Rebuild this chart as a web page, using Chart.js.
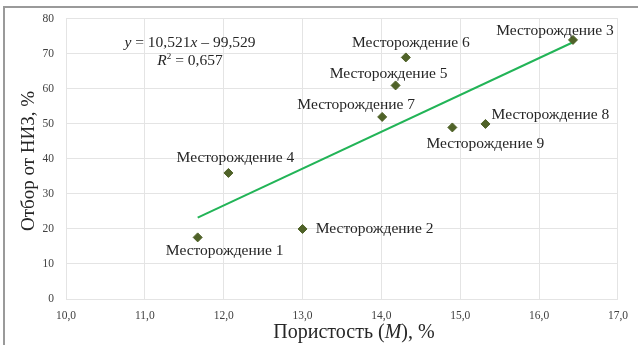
<!DOCTYPE html>
<html>
<head>
<meta charset="utf-8">
<script src="https://cdn.jsdelivr.net/npm/chart.js@4"></script>
<style>
  html, body { margin: 0; padding: 0; background: #fff; }
  #wrap { width: 638px; height: 345px; }
</style>
</head>
<body>
<div id="wrap"><canvas id="porosityChart" width="638" height="345"></canvas></div>
<script>
// месторождения
var fields = [
  "Месторождение 1",
  "Месторождение 2",
  "Месторождение 3",
  "Месторождение 4",
  "Месторождение 5",
  "Месторождение 6",
  "Месторождение 7",
  "Месторождение 8",
  "Месторождение 9",
];
var porosity = [11.67, 13.0, 16.43, 12.06, 14.18, 14.31, 14.01, 15.32, 14.9];
var recovery = [17.6, 20.0, 74.0, 36.0, 61.0, 69.0, 52.0, 50.0, 49.0];

// линия тренда y = a*x + b
var slope = 10.521;
var intercept = -99.529;
var rSquared = "0,657";

// где рисовать подписи относительно точки (центр текста), px
var labelOffsets = [
  [27, 14], [72, 0], [-18, -9], [7, -15], [-7, -12],
  [5, -14], [-26, -12], [65, -9], [33, 16],
];

var points = porosity.map(function (x, i) {
  return { x: x, y: recovery[i] };
});
var xMin = Math.min.apply(null, porosity);
var xMax = Math.max.apply(null, porosity);
var trend = [
  { x: xMin, y: slope * xMin + intercept },
  { x: xMax, y: slope * xMax + intercept },
];

function fmt(v, d) {
  return v.toFixed(d).replace(".", ",");
}

var serif = '"Liberation Serif", "Times New Roman", serif';

var decorPlugin = {
  id: "decor",
  beforeDraw: function (chart) {
    var c = chart.ctx;
    c.save();
    c.fillStyle = "#fff";
    c.fillRect(0, 0, chart.width, chart.height);
    c.strokeStyle = "#9a9a9a";
    c.lineWidth = 2;
    c.beginPath();
    c.moveTo(4, chart.height);
    c.lineTo(4, 7);
    c.lineTo(chart.width, 7);
    c.stroke();
    c.restore();
  },
  afterDraw: function (chart) {
    var c = chart.ctx;
    var xs = chart.scales.x;
    var ys = chart.scales.y;
    c.save();
    c.fillStyle = "#262626";
    c.textBaseline = "middle";
    c.textAlign = "center";

    // подписи точек
    c.font = "15.5px " + serif;
    fields.forEach(function (name, i) {
      var px = xs.getPixelForValue(porosity[i]);
      var py = ys.getPixelForValue(recovery[i]);
      c.fillText(name, px + labelOffsets[i][0], py + labelOffsets[i][1]);
    });

    // уравнение
    var eqParts = [
      ["italic", "y"],
      ["normal", " = " + fmt(slope, 3)],
      ["italic", "x"],
      ["normal", " \u2013 " + fmt(-intercept, 3)],
    ];
    drawParts(c, eqParts, 190, 43, 15.5);
    var r2Parts = [
      ["italic", "R"],
      ["sup", "2"],
      ["normal", " = " + rSquared],
    ];
    drawParts(c, r2Parts, 190, 61, 15.5);

    // заголовки осей
    c.fillStyle = "#262626";
    drawParts(c, [["normal", "Пористость ("], ["italic", "M"], ["normal", "), %"]], 354, 333, 20);
    c.save();
    c.translate(29, 161);
    c.rotate(-Math.PI / 2);
    c.font = "19px " + serif;
    c.textAlign = "center";
    c.fillText("Отбор от НИЗ, %", 0, 0);
    c.restore();
    c.restore();
  },
};

function partFont(style, size) {
  if (style === "italic") return "italic " + size + "px " + serif;
  if (style === "sup") return Math.round(size * 0.6) + "px " + serif;
  return size + "px " + serif;
}

function drawParts(c, parts, cx, cy, size) {
  var total = 0;
  parts.forEach(function (p) {
    c.font = partFont(p[0], size);
    total += c.measureText(p[1]).width;
  });
  var x = cx - total / 2;
  c.textAlign = "left";
  parts.forEach(function (p) {
    c.font = partFont(p[0], size);
    var dy = p[0] === "sup" ? -size * 0.3 : 0;
    c.fillText(p[1], x, cy + dy);
    x += c.measureText(p[1]).width;
  });
  c.textAlign = "center";
}

var ctx = document.getElementById("porosityChart").getContext("2d");
var porosityChart = new Chart(ctx, {
  type: "scatter",
  plugins: [decorPlugin],
  data: {
    datasets: [
      {
        label: "Месторождения",
        data: points,
        pointStyle: "rectRot",
        pointRadius: 4.5,
        backgroundColor: "#4f6228",
        borderColor: "#4f6228",
        borderWidth: 1,
      },
      {
        label: "Тренд",
        type: "line",
        data: trend,
        borderColor: "#22b457",
        borderWidth: 2,
        pointRadius: 0,
        fill: false,
      },
    ],
  },
  options: {
    responsive: false,
    animation: false,
    layout: { padding: { top: 18, right: 20, left: 0, bottom: 0 } },
    plugins: {
      legend: { display: false },
      tooltip: { enabled: false },
    },
    scales: {
      x: {
        type: "linear",
        min: 10,
        max: 17,
        afterFit: function (s) { s.height = 46; },
        grid: { color: "#e4e4e4", drawTicks: false },
        border: { display: false },
        ticks: {
          stepSize: 1,
          padding: 10,
          color: "#404040",
          font: { family: serif, size: 11.5 },
          callback: function (v) { return fmt(v, 1); },
        },
      },
      y: {
        min: 0,
        max: 80,
        afterFit: function (s) { s.width = 66; },
        grid: { color: "#e4e4e4", drawTicks: false },
        border: { display: false },
        ticks: {
          stepSize: 10,
          padding: 12,
          color: "#404040",
          font: { family: serif, size: 11.5 },
        },
      },
    },
  },
});
</script>
</body>
</html>
